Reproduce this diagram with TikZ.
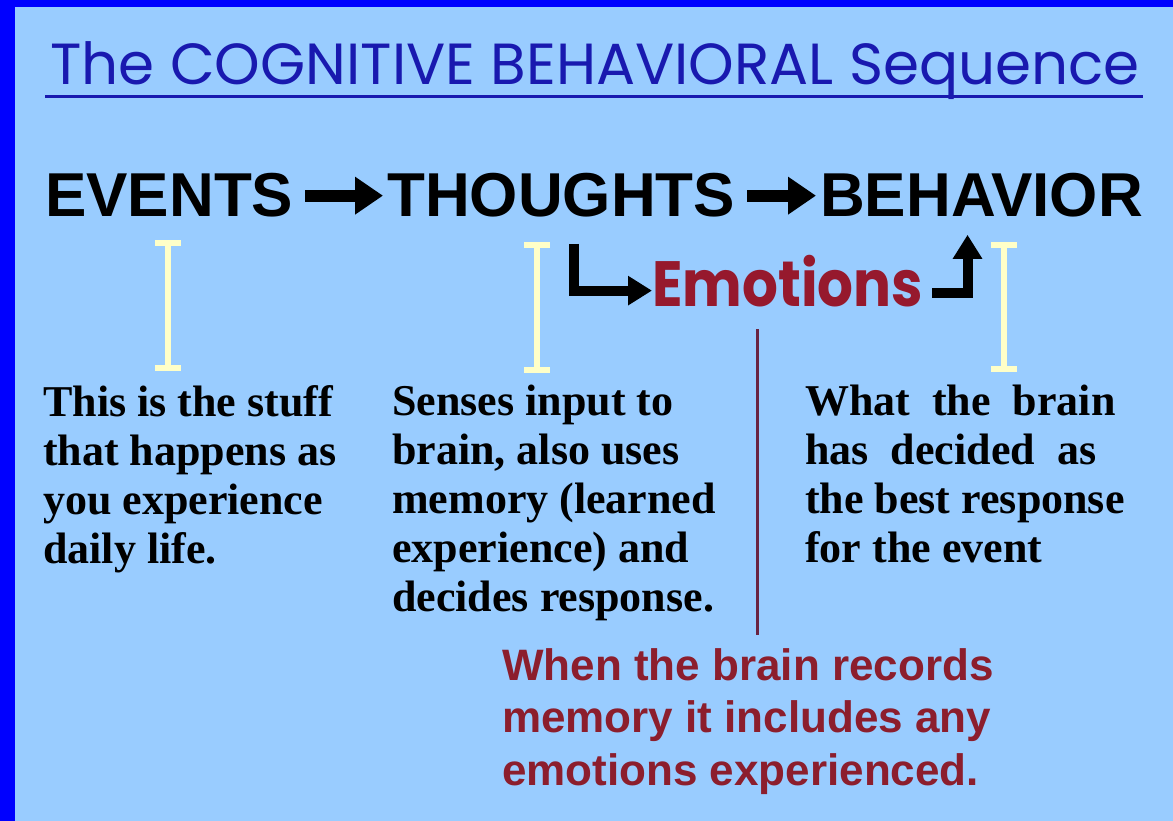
\documentclass[tikz,border=0pt]{standalone}
\usepackage{fontspec}
\setmainfont{Liberation Serif}
\newfontfamily\arialfont{Liberation Sans}
\newfontfamily\comicfont{Poppins}
\newfontfamily\emofont{Poppins}[FakeStretch=0.88]
\usetikzlibrary{arrows.meta}
\definecolor{sky}{RGB}{153,204,255}
\definecolor{framecol}{RGB}{0,0,255}
\definecolor{titleblue}{RGB}{25,25,175}
\definecolor{wine}{RGB}{150,25,45}
\definecolor{notered}{RGB}{140,30,45}
\definecolor{paleyellow}{RGB}{255,255,200}
\definecolor{stemcol}{RGB}{105,35,65}

\begin{document}
\begin{tikzpicture}[x=1pt,y=-1pt,
  word/.style={anchor=base west,inner sep=0pt,font=\fontsize{62}{62}\selectfont\arialfont\bfseries},
  body/.style={anchor=north west,inner sep=0pt,align=left,font=\fontsize{44}{49}\selectfont\bfseries},
  bigarrow/.style={-{Triangle[length=28pt,width=36pt]},line width=12pt,shorten <=12pt,shorten >=4pt},
  bentarrow/.style={-{Triangle[length=24pt,width=28pt]},line width=10pt},
  ibeam/.style={paleyellow,line width=6pt}]
\fill[framecol] (0,0) rectangle (1173,821);
\fill[sky] (15,7) rectangle (1173,821);
\node[anchor=base west,inner sep=0pt,titleblue,font=\fontsize{58}{58}\selectfont\comicfont] (title) at (50,85) {The COGNITIVE BEHAVIORAL Sequence};
\draw[titleblue,line width=3pt] ([xshift=-5pt,yshift=-12pt]title.base west) -- ([xshift=3pt,yshift=-12pt]title.base east);
\node[word] (events) at (45,217) {EVENTS};
\node[word] (thoughts) at (387,217) {THOUGHTS};
\node[word] (behavior) at (820,217) {BEHAVIOR};
\draw[bigarrow] (events.east) -- (thoughts.west);
\draw[bigarrow] (thoughts.east) -- (behavior.west);
\node[anchor=base west,inner sep=0pt,wine,font=\fontsize{64}{64}\selectfont\emofont\bfseries] (emotions) at (652,306) {Emotions};
\draw[bentarrow] ([xshift=13pt,yshift=-26pt]thoughts.south) |- ([yshift=-10pt]emotions.west);
\draw[bentarrow,shorten <=9pt,shorten >=17pt] ([yshift=-12pt]emotions.east) -| ([xshift=-14pt]behavior.south);
\foreach \x/\ya/\yb in {168/240/371,537/242/373,1004/242/372}{
  \draw[ibeam] (\x,\ya) -- (\x,\yb);
  \draw[ibeam] (\x-13,\ya+3) -- (\x+13,\ya+3);
  \draw[ibeam] (\x-13,\yb-3) -- (\x+13,\yb-3);
}
\node[body] (events-text) at (43,385) {This is the stuff\\that happens as\\you experience\\daily life.};
\node[body] (thoughts-text) at (392,385) {Senses input to\\brain, also uses\\memory (learned\\experience) and\\decides response.};
\node[body] (behavior-text) at (805,385) {What\ \ the\ \ brain\\has\ \ decided\ \ as\\the best response\\for the event};
\node[anchor=north west,inner sep=0pt,align=left,notered,font=\fontsize{44}{52.5}\selectfont\arialfont\bfseries] (note) at (502,648) {When the brain records\\memory it includes any\\emotions experienced.};
\coordinate (stem) at (757,329);
\draw[stemcol,line width=3pt,shorten >=13pt] (stem) -- (stem |- note.north);
\end{tikzpicture}
\end{document}
